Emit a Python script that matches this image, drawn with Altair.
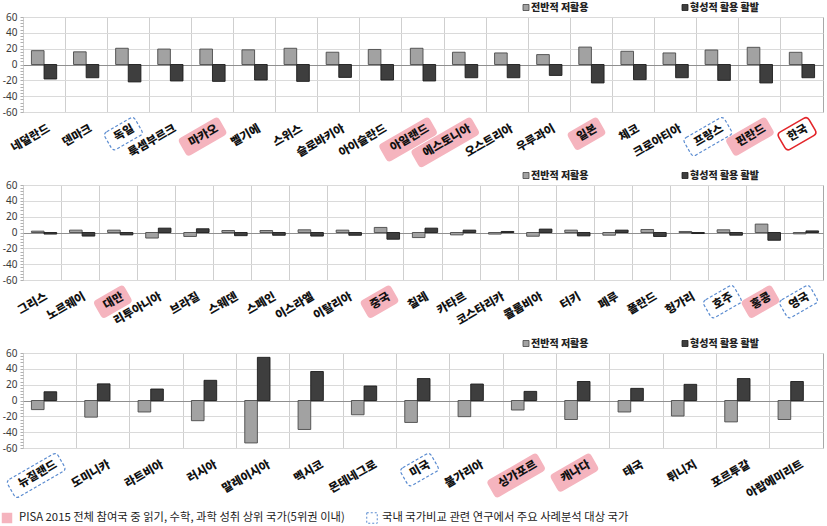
import altair as alt
import pandas as pd

S_LOW = "전반적 저활용"
S_FORM = "형성적 활용 활발"

p1_countries = ["네덜란드", "덴마크", "독일", "룩셈부르크", "마카오", "벨기에", "스위스", "슬로바키아",
                "아이슬란드", "아일랜드", "에스토니아", "오스트리아", "우루과이", "일본", "체코",
                "크로아티아", "프랑스", "핀란드", "한국"]
p1_low = [17.5, 16, 20.5, 19.5, 19.5, 18.5, 20.5, 15.5, 19, 20.5, 15.5, 14.6, 12.5, 22, 16.7, 14.6, 18.3, 21.7, 15.4]
p1_form = [-18.3, -16.7, -22, -20.8, -21.3, -19.6, -21.3, -16.3, -19.6, -20.8, -16.7, -16.7, -13.8, -23.3, -19.2, -16.7, -20, -23.3, -16.7]

p2_countries = ["그리스", "노르웨이", "대만", "리투아니아", "브라질", "스웨덴", "스페인", "이스라엘",
                "이탈리아", "중국", "칠레", "카타르", "코스타리카", "콜롬비아", "터키", "페루",
                "폴란드", "헝가리", "호주", "홍콩", "영국"]
p2_low = [1.7, 3, 3, -7, -5, 2.5, 2.5, 3.4, 3, 6.4, -6.4, -3, -2, -4.7, 3, -3.4, 3.8, 1.3, 3.4, 10.6, -1.7]
p2_form = [-2, -4.5, -3, 5.5, 4.7, -4, -3.5, -4.5, -3.5, -8.5, 5.5, 3, 1.3, 4.3, -4.3, 3, -5, -1.3, -3.4, -9.8, 2]

p3_countries = ["뉴질랜드", "도미니카", "라트비아", "러시아", "말레이시아", "멕시코", "몬테네그로", "미국",
                "불가리아", "싱가포르", "캐나다", "태국", "튀니지", "포르투갈", "아랍에미리트"]
p3_low = [-11.5, -21, -14.5, -25.5, -53.6, -36.6, -18, -27.7, -20.4, -12, -24, -14.5, -19.6, -27, -24]
p3_form = [11, 21, 14.5, 25.5, 54.5, 36.6, 18.3, 27.7, 20.8, 11.5, 24, 15.3, 20.4, 27.7, 24]

pink_set = ["마카오", "아일랜드", "에스토니아", "일본", "핀란드", "대만", "중국", "홍콩", "싱가포르", "캐나다"]
blue_set = ["독일", "프랑스", "호주", "영국", "뉴질랜드", "미국"]
red_set = ["한국"]

legend_note_pink = "PISA 2015 전체 참여국 중 읽기, 수학, 과학 성취 상위 국가(5위권 이내)"
legend_note_blue = "국내 국가비교 관련 연구에서 주요 사례분석 대상 국가"

FONT_KR = "Noto Sans CJK KR"
LABEL_FS = 11.5
W = 800
H = 95
C_LOW = "#a2a2a2"
C_FORM = "#3e3e3e"
PINK = "#f5b4be"
BLUE = "#5a8bd0"
RED = "#e3262b"

one_row = alt.Data(values=[{"k": 0}])


def make_panel(countries, low, form, bottom_legend=False):
    n = len(countries)
    df = pd.DataFrame({
        "country": countries * 2,
        "series": [S_LOW] * n + [S_FORM] * n,
        "value": low + form,
    })
    kinds = []
    for c in countries:
        if c in pink_set:
            kinds.append("pink")
        elif c in blue_set:
            kinds.append("blue")
        elif c in red_set:
            kinds.append("red")
        else:
            kinds.append("none")
    ldf = pd.DataFrame({"country": countries, "kind": kinds})

    xscale = alt.Scale(domain=countries, paddingInner=0, paddingOuter=0)
    xaxis = alt.Axis(title=None, labels=False, ticks=False, domain=False, grid=True,
                     bandPosition=0, gridColor="#cfcfcf", gridWidth=1)
    xenc = alt.X("country:N", sort=countries, scale=xscale, axis=xaxis)
    xlab = alt.X("country:N", sort=countries, scale=xscale, axis=xaxis, bandPosition=0.62)

    yaxis = alt.Axis(
        title=None,
        values=list(range(-60, 61, 4)),
        labelExpr="datum.value % 20 === 0 ? '' + datum.value : ''",
        grid=True,
        gridColor=alt.condition("datum.value === 0", alt.value("#8f8f8f"), alt.value("#dadada")),
        gridOpacity=alt.condition("datum.value % 20 === 0", alt.value(1), alt.value(0)),
        gridWidth=1,
        domain=False,
        ticks=True,
        tickSize=3,
        tickColor="#b0b0b0",
        labelPadding=3,
        labelFont="Noto Sans",
        labelFontSize=10,
        labelColor="#3a3a3a",
    )

    bars = alt.Chart(df).mark_bar(strokeWidth=0.9).encode(
        x=xenc,
        y=alt.Y("value:Q", scale=alt.Scale(domain=[-60, 60], nice=False, zero=True), axis=yaxis),
        xOffset=alt.XOffset("series:N", sort=[S_LOW, S_FORM],
                            scale=alt.Scale(domain=[S_LOW, S_FORM], paddingInner=0, paddingOuter=0.667)),
        fill=alt.Fill("series:N", scale=alt.Scale(domain=[S_LOW, S_FORM], range=[C_LOW, C_FORM]), legend=None),
        stroke=alt.Stroke("series:N", scale=alt.Scale(domain=[S_LOW, S_FORM], range=["#4a4a4a", "#1c1c1c"]), legend=None),
    )

    x0 = f"(-(length(datum.country)*{LABEL_FS}+6))"
    path_expr = (
        "'M'+(" + x0 + "+4)+',-10L2,-10Q6,-10,6,-6L6,6Q6,10,2,10L'+(" + x0 + "+4)+',10Q'+"
        + x0 + "+',10,'+" + x0 + "+',6L'+" + x0 + "+',-6Q'+" + x0 + "+',-10,'+(" + x0 + "+4)+',-10Z'"
    )

    def boxes(kind, **mk):
        return alt.Chart(ldf).transform_filter(
            alt.datum.kind == kind
        ).transform_calculate(
            path=path_expr
        ).mark_point(size=4, angle=330, opacity=1, **mk).encode(
            x=xlab,
            y=alt.value(H + 16),
            shape=alt.Shape("path:N", scale=None, legend=None),
        )

    pink_boxes = boxes("pink", filled=True, fill=PINK, strokeWidth=0)
    blue_boxes = boxes("blue", filled=False, fill="white", stroke=BLUE, strokeWidth=1.2, strokeDash=[3, 2])
    red_boxes = boxes("red", filled=False, fill="white", stroke=RED, strokeWidth=1.6)

    labels = alt.Chart(ldf).mark_text(
        angle=330, align="right", baseline="middle", font=FONT_KR, fontWeight=900,
        fontSize=LABEL_FS, color="#111111"
    ).encode(x=xlab, y=alt.value(H + 16), text="country:N")

    leg_y = -9.5
    leg_fs = 10
    leg_icon1 = alt.Chart(one_row).mark_square(size=36, fill=C_LOW, stroke="#444", strokeWidth=0.8, opacity=1).encode(
        x=alt.value(503), y=alt.value(leg_y))
    leg_text1 = alt.Chart(one_row).mark_text(text=S_LOW, align="left", baseline="middle", font=FONT_KR,
                                             fontWeight=900, fontSize=leg_fs, color="#222").encode(
        x=alt.value(508), y=alt.value(leg_y))
    leg_icon2 = alt.Chart(one_row).mark_square(size=36, fill=C_FORM, stroke="#1c1c1c", strokeWidth=0.8, opacity=1).encode(
        x=alt.value(662), y=alt.value(leg_y))
    leg_text2 = alt.Chart(one_row).mark_text(text=S_FORM, align="left", baseline="middle", font=FONT_KR,
                                             fontWeight=900, fontSize=leg_fs, color="#222").encode(
        x=alt.value(667), y=alt.value(leg_y))

    layers = [bars, pink_boxes, blue_boxes, red_boxes, labels, leg_icon1, leg_text1, leg_icon2, leg_text2]

    if bottom_legend:
        by = H + 70
        sq1 = alt.Chart(one_row).mark_square(size=110, fill=PINK, strokeWidth=0, opacity=1).encode(
            x=alt.value(-16), y=alt.value(by))
        t1 = alt.Chart(one_row).mark_text(text=legend_note_pink, align="left", baseline="middle", font=FONT_KR,
                                          fontSize=11.3, color="#222").encode(x=alt.value(-4), y=alt.value(by))
        sq2 = alt.Chart(one_row).mark_point(shape="square", size=110, filled=False, fill="white", stroke=BLUE,
                                            strokeWidth=1, strokeDash=[2, 2], opacity=1).encode(
            x=alt.value(349), y=alt.value(by))
        t2 = alt.Chart(one_row).mark_text(text=legend_note_blue, align="left", baseline="middle", font=FONT_KR,
                                          fontSize=11.3, color="#222").encode(x=alt.value(359), y=alt.value(by))
        layers += [sq1, t1, sq2, t2]

    return alt.layer(*layers).properties(width=W, height=H)


p1 = make_panel(p1_countries, p1_low, p1_form)
p2 = make_panel(p2_countries, p2_low, p2_form)
p3 = make_panel(p3_countries, p3_low, p3_form, bottom_legend=True)

chart = alt.vconcat(p1, p2, p3, spacing=73, bounds="flush").configure_view(
    stroke="#a8a8a8", strokeWidth=1
).properties(
    padding={"left": 1, "top": 2, "right": 0, "bottom": 0},
    background="white",
)

chart.save("out.html", embed_options={"renderer": "svg", "actions": False})
